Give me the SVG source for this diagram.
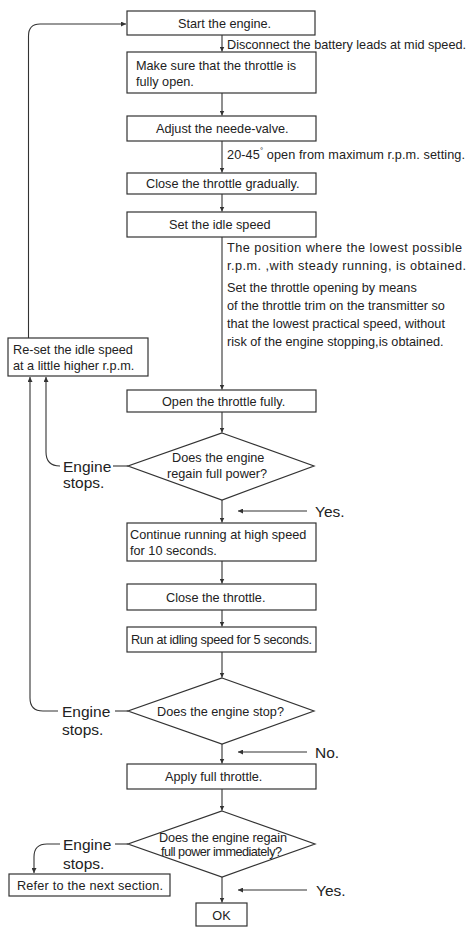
<svg xmlns="http://www.w3.org/2000/svg" width="470" height="927" viewBox="0 0 470 927">
<style>
.bx{fill:#fff;stroke:#333;stroke-width:1.2}
.ln{fill:none;stroke:#333;stroke-width:1.1}
.t{font-family:"Liberation Sans",Arial,sans-serif;font-size:12.7px;fill:#222}
.big{font-family:"Liberation Sans",Arial,sans-serif;font-size:15.5px;fill:#222}
</style>
<defs>
<marker id="ah" viewBox="0 0 6 6" refX="6" refY="3" markerWidth="5" markerHeight="5" orient="auto" markerUnits="userSpaceOnUse">
<path d="M0,0 L6,3 L0,6 z" fill="#333"/>
</marker>
</defs>
<rect width="470" height="927" fill="#fff"/>

<g id="connectors">
<line class="ln" x1="222" y1="35" x2="222" y2="51.5" marker-end="url(#ah)"/>
<line class="ln" x1="222" y1="93" x2="222" y2="115.5" marker-end="url(#ah)"/>
<line class="ln" x1="222" y1="141" x2="222" y2="172.5" marker-end="url(#ah)"/>
<line class="ln" x1="222" y1="194" x2="222" y2="211.5" marker-end="url(#ah)"/>
<line class="ln" x1="222" y1="237" x2="222" y2="389.5" marker-end="url(#ah)"/>
<line class="ln" x1="222" y1="412" x2="222" y2="432.5" marker-end="url(#ah)"/>
<line class="ln" x1="222" y1="500" x2="222" y2="522.5" marker-end="url(#ah)"/>
<line class="ln" x1="222" y1="561" x2="222" y2="583.5" marker-end="url(#ah)"/>
<line class="ln" x1="222" y1="610" x2="222" y2="626.5" marker-end="url(#ah)"/>
<line class="ln" x1="222" y1="652" x2="222" y2="677.5" marker-end="url(#ah)"/>
<line class="ln" x1="222" y1="744" x2="222" y2="763.5" marker-end="url(#ah)"/>
<line class="ln" x1="222" y1="789" x2="222" y2="810.5" marker-end="url(#ah)"/>
<line class="ln" x1="222" y1="877" x2="222" y2="902.5" marker-end="url(#ah)"/>
<path class="ln" d="M28.5,338 V36 Q28.5,24 40,24 H126" marker-end="url(#ah)"/>
<line class="ln" x1="113" y1="466" x2="128" y2="466"/>
<path class="ln" d="M60,466 Q46,466 46,452 V377" marker-end="url(#ah)"/>
<line class="ln" x1="115" y1="711" x2="128" y2="711"/>
<path class="ln" d="M58,711 H43 Q30,711 30,698 V377" marker-end="url(#ah)"/>
<line class="ln" x1="115" y1="844" x2="128" y2="844"/>
<path class="ln" d="M60,844 H47 Q34,844 34,857 V873" marker-end="url(#ah)"/>
<line class="ln" x1="307" y1="511" x2="238" y2="511" marker-end="url(#ah)"/>
<line class="ln" x1="307" y1="752" x2="238" y2="752" marker-end="url(#ah)"/>
<line class="ln" x1="307" y1="890" x2="238" y2="890" marker-end="url(#ah)"/>
</g>

<g id="labels">
<text class="t" x="227" y="49" textLength="239">Disconnect the battery leads at mid speed.</text>
<text class="t" x="227" y="159" textLength="238">20-45<tspan font-size="8" dy="-6">°</tspan><tspan dy="6"> open from maximum r.p.m. setting.</tspan></text>
<text class="t" x="227" y="252" textLength="235">The position where the lowest possible</text>
<text class="t" x="227" y="269.5" textLength="239">r.p.m. ,with steady running, is obtained.</text>
<text class="t" x="227" y="292">Set the throttle opening by means</text>
<text class="t" x="227" y="309.5">of the throttle trim on the transmitter so</text>
<text class="t" x="227" y="327.5">that the lowest practical speed, without</text>
<text class="t" x="227" y="345.5">risk of the engine stopping,is obtained.</text>
<text class="big" x="63" y="472">Engine</text>
<text class="big" x="63" y="488">stops.</text>
<text class="big" x="315" y="517">Yes.</text>
<text class="big" x="62" y="717">Engine</text>
<text class="big" x="62" y="735">stops.</text>
<text class="big" x="315" y="758">No.</text>
<text class="big" x="63" y="850">Engine</text>
<text class="big" x="63" y="869">stops.</text>
<text class="big" x="316" y="896">Yes.</text>
</g>

<g id="n1"><rect class="bx" x="127" y="11" width="188" height="24"/><text class="t" x="178" y="28">Start the engine.</text></g>
<g id="n2"><rect class="bx" x="127" y="52" width="189" height="41"/><text class="t" x="136" y="70">Make sure that the throttle is</text><text class="t" x="136" y="86">fully open.</text></g>
<g id="n3"><rect class="bx" x="127" y="116" width="189" height="25"/><text class="t" x="156" y="133">Adjust the neede-valve.</text></g>
<g id="n4"><rect class="bx" x="127" y="173" width="189" height="21"/><text class="t" x="146" y="188">Close the throttle gradually.</text></g>
<g id="n5"><rect class="bx" x="127" y="212" width="189" height="25"/><text class="t" x="169" y="229">Set the idle speed</text></g>
<g id="n6"><rect class="bx" x="127" y="390" width="189" height="22"/><text class="t" x="162" y="405.5">Open the throttle fully.</text></g>
<g id="n7"><polygon class="bx" points="222,433 314,466 222,500 128,466"/><text class="t" x="172" y="462">Does the engine</text><text class="t" x="167" y="478">regain full power?</text></g>
<g id="n8"><rect class="bx" x="8" y="338" width="140" height="38"/><text class="t" x="13" y="354">Re-set the idle speed</text><text class="t" x="13" y="370">at a little higher r.p.m.</text></g>
<g id="n9"><rect class="bx" x="127" y="523" width="189" height="38"/><text class="t" x="130" y="539">Continue running at high speed</text><text class="t" x="130" y="555">for 10 seconds.</text></g>
<g id="n10"><rect class="bx" x="127" y="584" width="189" height="26"/><text class="t" x="166" y="601.5">Close the throttle.</text></g>
<g id="n11"><rect class="bx" x="127" y="627" width="189" height="25"/><text class="t" x="131" y="644" textLength="181">Run at idling speed for 5 seconds.</text></g>
<g id="n12"><polygon class="bx" points="222,678 314,711 222,744 128,711"/><text class="t" x="157" y="715.5">Does the engine stop?</text></g>
<g id="n13"><rect class="bx" x="127" y="764" width="189" height="25"/><text class="t" x="165" y="781">Apply full throttle.</text></g>
<g id="n14"><polygon class="bx" points="222,811 315,844 222,877 128,844"/><text class="t" x="159" y="842" font-size="11" textLength="128">Does the engine regain</text><text class="t" x="161" y="855.5" font-size="11" textLength="121">full power immediately?</text></g>
<g id="n15"><rect class="bx" x="9" y="874" width="161" height="22"/><text class="t" x="17" y="890" textLength="146">Refer to the next section.</text></g>
<g id="n16"><rect class="bx" x="196" y="903" width="51" height="23"/><text class="t" x="221.5" y="920" text-anchor="middle">OK</text></g>
</svg>
